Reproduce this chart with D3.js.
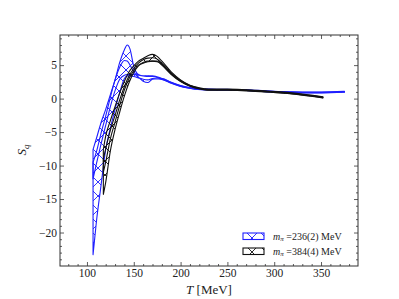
<!DOCTYPE html>
<html lang="en">
<head>
<meta charset="utf-8">
<title>S_q vs T</title>
<script src="https://d3js.org/d3.v7.min.js"></script>
<style>
  body { margin: 0; background: #fff; }
  text { font-family: "Liberation Serif", "DejaVu Serif", serif; }
</style>
</head>
<body>
<script>
// axis ticks
var xTicks = [100, 150, 200, 250, 300, 350];
var yTicks = [-20, -15, -10, -5, 0, 5];

// m_pi = 236(2) MeV, two hatched bands
var blueT      = [106.5, 110, 115, 120, 125, 130, 135, 140, 143, 146, 150, 155, 160, 165, 170, 180, 190, 200, 215, 230, 250, 270, 290, 310, 330, 350, 375];
var blueUpperA = [-7.6, -6.0, -3.6, -1.6, 0.6, 2.8, 5.4, 7.3, 8.0, 7.4, 4.8, 3.6, 3.4, 3.4, 3.4, 3.0, 2.45, 1.95, 1.55, 1.42, 1.38, 1.33, 1.18, 1.04, 0.99, 0.99, 1.08];
var blueLowerA = [-12, -9.8, -6.8, -4.0, -1.2, 1.2, 2.9, 3.5, 3.6, 3.6, 3.6, 3.5, 3.4, 3.3, 3.3, 2.9, 2.35, 1.85, 1.45, 1.32, 1.28, 1.23, 1.08, 0.94, 0.89, 0.89, 0.98];
var blueUpperB = [-9.5, -8, -5.2, -2.6, 0.2, 2.8, 4.7, 5.7, 5.6, 5.0, 4.0, 3.2, 2.6, 2.4, 2.9, 3.0, 2.4, 1.9, 1.5, 1.38, 1.34, 1.29, 1.14, 1.0, 0.95, 0.95, 1.04];
var blueLowerB = [-23.3, -18.5, -13, -7.6, -4.4, -1.6, 0.9, 3.0, 3.4, 3.4, 3.3, 3.1, 2.9, 2.8, 3.0, 2.85, 2.3, 1.8, 1.42, 1.28, 1.25, 1.2, 1.05, 0.9, 0.86, 0.86, 0.95];

// m_pi = 384(4) MeV, two hatched bands
var blackT      = [117.5, 120, 125, 130, 135, 140, 145, 150, 155, 160, 165, 170, 175, 180, 190, 200, 210, 220, 230, 250, 270, 290, 310, 330, 352];
var blackUpperA = [-7.6, -5.6, -3.3, -1.2, 0.85, 2.6, 4.0, 4.9, 5.6, 6.0, 6.4, 6.6, 6.3, 5.6, 4.0, 2.8, 2.0, 1.6, 1.42, 1.42, 1.32, 1.17, 0.97, 0.67, 0.28];
var blackLowerA = [-11, -9.5, -6.0, -3.5, -1.0, 1.3, 3.0, 4.2, 5.0, 5.4, 5.6, 5.6, 5.5, 5.1, 3.7, 2.6, 1.9, 1.5, 1.3, 1.3, 1.2, 1.05, 0.85, 0.55, 0.15];
var blackUpperB = [-9, -7.5, -4.7, -2.5, -0.2, 1.8, 3.4, 4.5, 5.3, 5.8, 6.05, 6.1, 5.9, 5.3, 3.85, 2.7, 1.95, 1.55, 1.36, 1.36, 1.26, 1.11, 0.91, 0.61, 0.22];
var blackLowerB = [-14.3, -12.5, -7.8, -4.6, -2.0, 0.4, 2.4, 3.9, 4.9, 5.3, 5.5, 5.6, 5.6, 5.0, 3.6, 2.55, 1.85, 1.45, 1.25, 1.25, 1.15, 1.0, 0.8, 0.5, 0.1];

var legendLabels = ["=236(2) MeV", "=384(4) MeV"];

var w = 399, h = 299;
var mL = 60, mR = 358, mT = 35, mB = 266;

var x = d3.scaleLinear().domain([71.2, 389.5]).range([mL, mR]);
var y = d3.scaleLinear().domain([-25, 9.5]).range([mB, mT]);

var svg = d3.select("body").append("svg").attr("width", w).attr("height", h);
var defs = svg.append("defs");

var hs = 14; // hatch cell size
function hatch(id, color) {
  var p = defs.append("pattern").attr("id", id)
    .attr("patternUnits", "userSpaceOnUse").attr("width", hs).attr("height", hs);
  p.append("path").attr("d", "M0,0L" + hs + "," + hs + "M" + hs + ",0L0," + hs)
    .attr("stroke", color).attr("stroke-width", 0.9).attr("fill", "none");
}
hatch("hb", "#1f1fff");
hatch("hk", "#111");

svg.append("clipPath").attr("id", "plotclip").append("rect")
  .attr("x", mL).attr("y", mT).attr("width", mR - mL).attr("height", mB - mT);

var plot = svg.append("g").attr("clip-path", "url(#plotclip)");

function band(T, lo, hi, color, pat) {
  var data = T.map(function(t, i) { return [t, lo[i], hi[i]]; });
  var area = d3.area().curve(d3.curveMonotoneX)
    .x(function(d) { return x(d[0]); })
    .y0(function(d) { return y(d[1]); })
    .y1(function(d) { return y(d[2]); });
  plot.append("path").datum(data).attr("d", area)
    .attr("fill", "url(#" + pat + ")")
    .attr("stroke", color).attr("stroke-width", 1.1).attr("stroke-linejoin", "round");
}

band(blueT, blueLowerA, blueUpperA, "#1f1fff", "hb");
band(blueT, blueLowerB, blueUpperB, "#1f1fff", "hb");
band(blackT, blackLowerA, blackUpperA, "#111", "hk");
band(blackT, blackLowerB, blackUpperB, "#111", "hk");

// axes, ticks pointing inward on all four sides
var xMinor = d3.range(80, 390, 10).filter(function(v) { return v % 50 != 0; });
var yMinor = d3.range(-25, 10, 1).filter(function(v) { return v % 5 != 0; });

function axes(axisFn, scale, pos, major, minor, labels) {
  var g = svg.append("g").attr("transform", pos);
  g.call(axisFn(scale).tickValues(minor).tickSize(-2).tickSizeOuter(0).tickFormat(""));
  var g2 = svg.append("g").attr("transform", pos);
  g2.call(axisFn(scale).tickValues(major).tickSize(-4).tickSizeOuter(0).tickPadding(3)
    .tickFormat(labels ? d3.format("") : ""));
  [g, g2].forEach(function(s) {
    s.select(".domain").remove();
    s.selectAll("line").attr("stroke", "#333").attr("stroke-width", 0.8);
    s.selectAll("text").attr("font-size", 11.5).attr("fill", "#222")
      .style("font-family", "'Liberation Serif', serif");
  });
}
axes(d3.axisBottom, x, "translate(0," + mB + ")", xTicks, xMinor, true);
axes(d3.axisTop, x, "translate(0," + mT + ")", xTicks, xMinor, false);
axes(d3.axisLeft, y, "translate(" + mL + ",0)", yTicks, yMinor, true);
axes(d3.axisRight, y, "translate(" + mR + ",0)", yTicks, yMinor, false);

svg.append("rect").attr("x", mL).attr("y", mT)
  .attr("width", mR - mL).attr("height", mB - mT)
  .attr("fill", "none").attr("stroke", "#333").attr("stroke-width", 1);

// axis labels
var xl = svg.append("text").attr("x", (mL + mR) / 2).attr("y", 294)
  .attr("text-anchor", "middle").attr("font-size", 13).attr("fill", "#222");
xl.append("tspan").attr("font-style", "italic").text("T");
xl.append("tspan").text(" [MeV]");

var yl = svg.append("text").attr("transform", "translate(26,150) rotate(-90)")
  .attr("text-anchor", "middle").attr("font-size", 13).attr("fill", "#222");
yl.append("tspan").attr("font-style", "italic").text("S");
yl.append("tspan").attr("font-style", "italic").attr("font-size", 9).attr("dy", 3).text("q");

// legend
var legColors = ["#1f1fff", "#111"];
var legPats = ["hb", "hk"];
legendLabels.forEach(function(lab, i) {
  var ly = 233 + i * 15;
  svg.append("rect").attr("x", 243).attr("y", ly).attr("width", 21).attr("height", 6.5)
    .attr("fill", "url(#" + legPats[i] + ")").attr("stroke", legColors[i]).attr("stroke-width", 1.1);
  var t = svg.append("text").attr("x", 273).attr("y", ly + 6.5).attr("font-size", 10).attr("fill", "#222");
  t.append("tspan").attr("font-style", "italic").text("m");
  t.append("tspan").attr("font-style", "italic").attr("font-size", 7).attr("dy", 1.5).text("π");
  t.append("tspan").attr("dy", -1.5).text(" " + lab);
});
</script>
</body>
</html>
